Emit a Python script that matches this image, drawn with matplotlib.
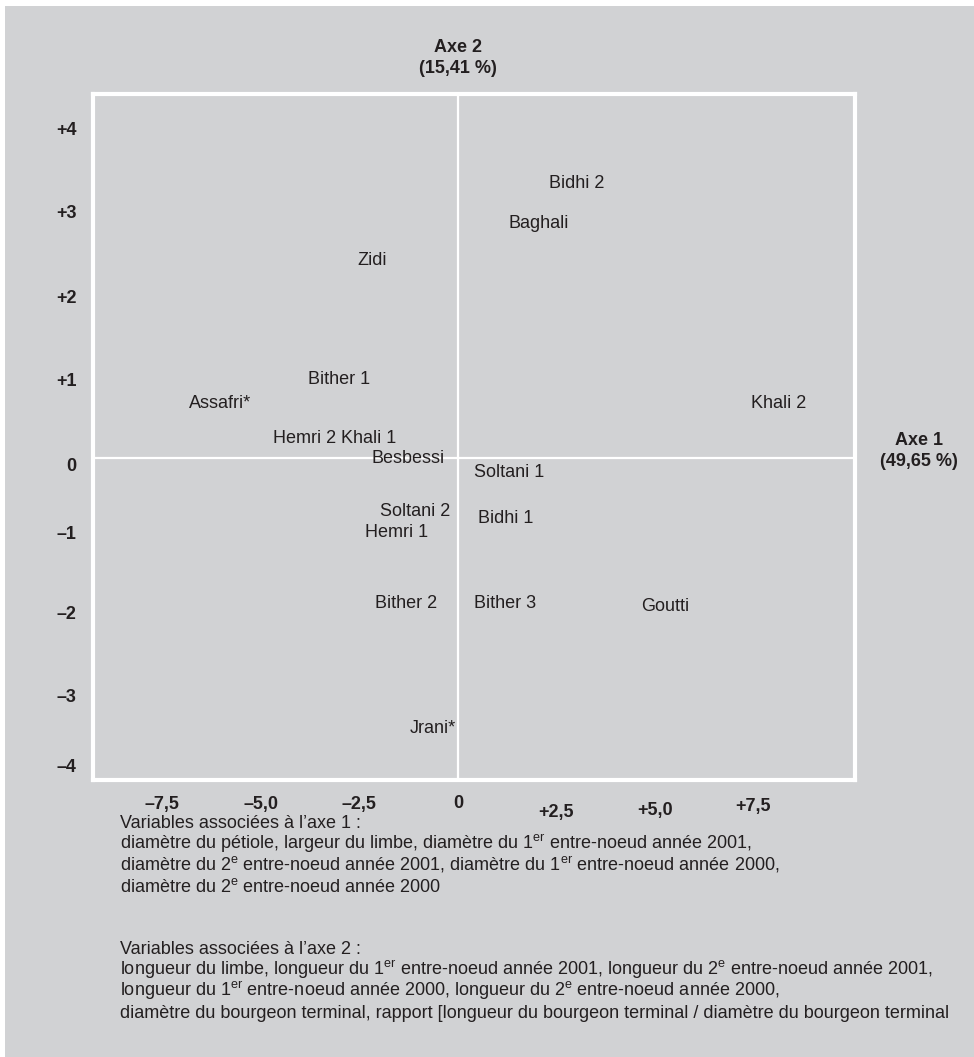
import matplotlib
matplotlib.use("Agg")
import matplotlib.pyplot as plt
from matplotlib.transforms import blended_transform_factory

plt.rcParams['font.family'] = ['Liberation Sans', 'DejaVu Sans']
plt.rcParams['mathtext.fontset'] = 'custom'
plt.rcParams['mathtext.rm'] = 'Liberation Sans'
plt.rcParams['mathtext.it'] = 'Liberation Sans:italic'
plt.rcParams['mathtext.bf'] = 'Liberation Sans:bold'

# ---------------- data ----------------
cultivars = ["Bidhi 2", "Baghali", "Zidi", "Bither 1", "Assafri*", "Khali 2",
             "Hemri 2", "Khali 1", "Besbessi", "Soltani 1", "Soltani 2",
             "Bidhi 1", "Hemri 1", "Bither 2", "Bither 3", "Goutti", "Jrani*"]
axe1 = [3.02, 2.06, -2.18, -3.02, -6.03, 8.15, -3.88, -2.26, -1.27, 1.29,
        -1.09, 1.22, -1.55, -1.32, 1.19, 5.25, -0.63]
axe2 = [3.27, 2.79, 2.35, 0.93, 0.64, 0.64, 0.23, 0.23, -0.01, -0.18,
        -0.64, -0.72, -0.89, -1.74, -1.74, -1.77, -3.23]

x_tick_values = [-7.5, -5.0, -2.5, 0, 2.5, 5.0, 7.5]
x_tick_labels = ["–7,5", "–5,0", "–2,5", "0", "+2,5", "+5,0", "+7,5"]
y_tick_values = [3.92, 2.93, 1.92, 0.93, -0.08, -0.89, -1.85, -2.83, -3.67]
y_tick_labels = ["+4", "+3", "+2", "+1", "0", "–1", "–2", "–3", "–4"]

axis1_title = "Axe 1\n(49,65 %)"
axis2_title = "Axe 2\n(15,41 %)"

notes_axe1 = [
    "Variables associées à l’axe 1 :",
    "diamètre du pétiole, largeur du limbe, diamètre du 1$^{\\rm er}$ entre-noeud année 2001,",
    "diamètre du 2$^{\\rm e}$ entre-noeud année 2001, diamètre du 1$^{\\rm er}$ entre-noeud année 2000,",
    "diamètre du 2$^{\\rm e}$ entre-noeud année 2000",
]
notes_axe2 = [
    "Variables associées à l’axe 2 :",
    "longueur du limbe, longueur du 1$^{\\rm er}$ entre-noeud année 2001, longueur du 2$^{\\rm e}$ entre-noeud année 2001,",
    "longueur du 1$^{\\rm er}$ entre-noeud année 2000, longueur du 2$^{\\rm e}$ entre-noeud année 2000,",
    "diamètre du bourgeon terminal, rapport [longueur du bourgeon terminal / diamètre du bourgeon terminal",
]

# ---------------- drawing ----------------
W, H = 974, 1057
BG = "#d1d2d4"
TXT = "#231f20"
FS = 13

fig = plt.figure(figsize=(W / 100, H / 100), dpi=100)
fig.patch.set_facecolor("white")
# gray panel
fig.patches.append(plt.Rectangle((5 / W, 0), 1 - 5 / W, 1 - 6 / H,
                                 transform=fig.transFigure, facecolor=BG,
                                 edgecolor="none", zorder=-10))

L, R, T, B = 93, 855, 94, 780
ax = fig.add_axes([L / W, 1 - B / H, (R - L) / W, (B - T) / H])
ax.set_zorder(5)
ax.set_facecolor(BG)
ax.set_xlim(-9.26, 10.08)
ax.set_ylim(-3.84, 4.33)
for s in ax.spines.values():
    s.set_color("white")
    s.set_linewidth(3)

ax.axhline(0, color="white", lw=1.6, zorder=1)
ax.axvline(0, color="white", lw=1.6, zorder=1)

for name, x, y in zip(cultivars, axe1, axe2):
    ax.text(x, y, name, ha="center", va="center", fontsize=FS, color=TXT, zorder=3)

# y tick labels
ax.set_yticks(y_tick_values)
ax.set_yticklabels(y_tick_labels, fontsize=FS, fontweight="bold", color=TXT)
ax.tick_params(axis="y", length=0, pad=12)
# x tick labels (drawn per label because they sit at slightly different heights)
ax.set_xticks([])
x_label_drop = [0, 0, 0, 0, 8, 6, 3]
trans = blended_transform_factory(ax.transData, fig.transFigure)
for v, lab, d in zip(x_tick_values, x_tick_labels, x_label_drop):
    ax.text(v, 1 - (804 + d) / H, lab, transform=trans, ha="center", va="center",
            fontsize=FS, fontweight="bold", color=TXT, clip_on=False)

# axis titles
fig.text(458 / W, 1 - 58 / H, axis2_title, ha="center", va="center",
         fontsize=FS, fontweight="bold", color=TXT, linespacing=1.3)
fig.text(919 / W, 1 - 451 / H, axis1_title, ha="center", va="center",
         fontsize=FS, fontweight="bold", color=TXT, linespacing=1.25)

# notes
NFS = 13.0
y0 = 828
for i, line in enumerate(notes_axe1):
    fig.text(120 / W, 1 - (y0 + i * 21.2) / H, line, ha="left", va="baseline",
             fontsize=NFS, color=TXT)
y0 = 954
for i, line in enumerate(notes_axe2):
    fig.text(120 / W, 1 - (y0 + i * 21.2) / H, line, ha="left", va="baseline",
             fontsize=NFS, color=TXT)

fig.savefig("out.png", dpi=100, facecolor=fig.get_facecolor())
